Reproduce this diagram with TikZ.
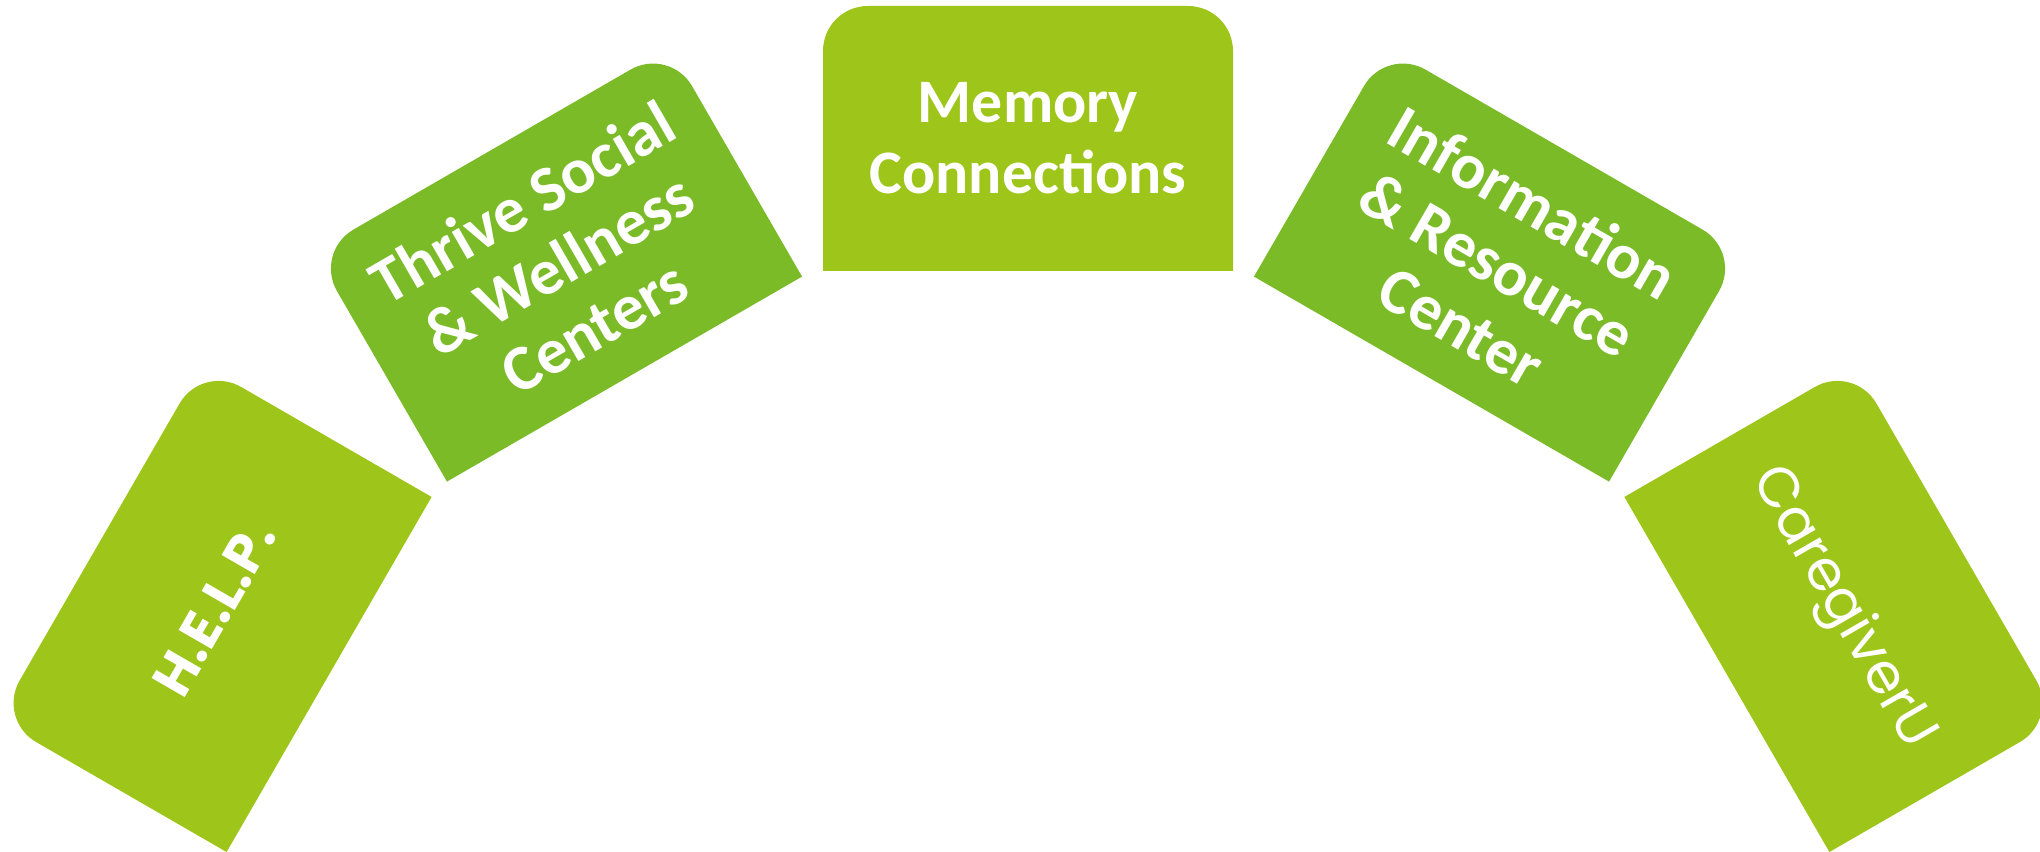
\documentclass[tikz,border=0pt]{standalone}
\usepackage{fontspec}
\setmainfont{Carlito}
\newfontfamily\geofont{Poppins}
\usepackage{xcolor}
\definecolor{leafgreen}{RGB}{158,197,26}
\definecolor{grassgreen}{RGB}{123,187,40}

\begin{document}
\begin{tikzpicture}[
  card/.pic={
    \fill[pic actions] (-2.05,0) -- (2.05,0) -- (2.05,1)
      [rounded corners=4.5mm] -- (2.05,2.65) -- (-2.05,2.65) -- (-2.05,1)
      [sharp corners] -- cycle;
  },
  cardtext/.style={text=white, align=center, inner sep=0pt, transform shape},
  boldtext/.style={cardtext, font=\fontsize{17.6}{20.2}\selectfont\bfseries},
  widetext/.style={cardtext, font=\fontsize{18.4}{20.4}\selectfont\bfseries},
  geotext/.style={cardtext, font=\geofont\fontsize{16}{19}\selectfont}
]
  \useasboundingbox (0,0) rectangle (20.4,8.52);
  \clip (0,0) rectangle (20.4,8.52);
  \coordinate (hub) at (10.28,-2.26);

  % left to right along the arc
  \begin{scope}[shift={(hub)}, rotate=60, shift={(0,8.07)}]
    \pic[fill=leafgreen, transform shape] {card};
    \node[geotext, font=\geofont\fontsize{15.5}{19}\selectfont\bfseries] (help) at (0,1.325) {H.E.L.P.};
  \end{scope}

  \begin{scope}[shift={(hub)}, rotate=30, shift={(0,8.07)}]
    \pic[fill=grassgreen, transform shape] {card};
    \node[widetext] (thrive) at (0,1.325) {Thrive Social\\\& Wellness\\Centers};
  \end{scope}

  \begin{scope}[shift={(hub)}, shift={(0,8.07)}]
    \pic[fill=leafgreen, transform shape] {card};
    \node[boldtext] (memory) at (0,1.325) {Memory\\Connections};
  \end{scope}

  \begin{scope}[shift={(hub)}, rotate=-30, shift={(0,8.07)}]
    \pic[fill=grassgreen, transform shape] {card};
    \node[widetext] (info) at (0,1.325) {Information\\\& Resource\\Center};
  \end{scope}

  \begin{scope}[shift={(hub)}, rotate=-60, shift={(0,8.07)}]
    \pic[fill=leafgreen, transform shape] {card};
    \node[geotext] (caregiver) at (0,1.325) {CaregiverU};
  \end{scope}
\end{tikzpicture}
\end{document}
